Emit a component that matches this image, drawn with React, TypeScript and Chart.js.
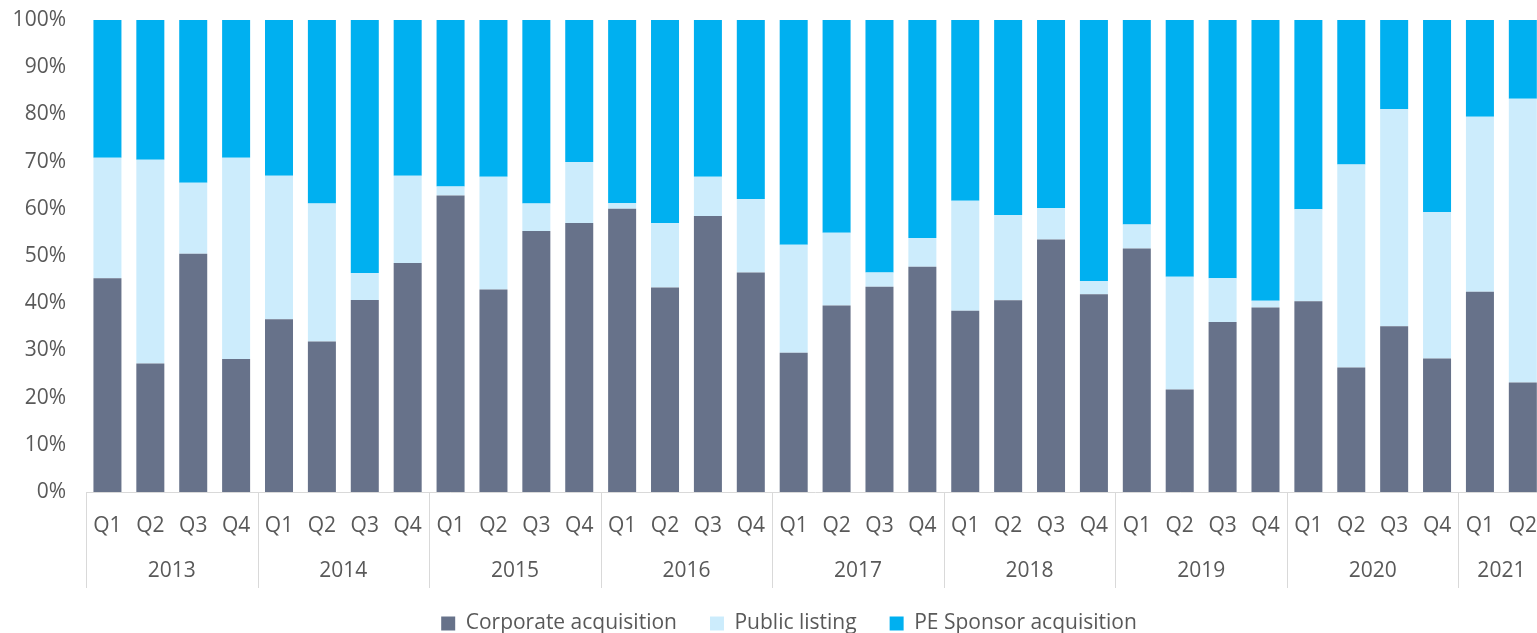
import React, { useEffect, useRef } from "react";
import { Chart, registerables } from "chart.js";

Chart.register(...registerables);

const quarters = [
  "Q1", "Q2", "Q3", "Q4", "Q1", "Q2", "Q3", "Q4", "Q1", "Q2", "Q3", "Q4",
  "Q1", "Q2", "Q3", "Q4", "Q1", "Q2", "Q3", "Q4", "Q1", "Q2", "Q3", "Q4",
  "Q1", "Q2", "Q3", "Q4", "Q1", "Q2", "Q3", "Q4", "Q1", "Q2",
];
const years = ["2013", "2014", "2015", "2016", "2017", "2018", "2019", "2020", "2021"];
const quartersPerYear = [4, 4, 4, 4, 4, 4, 4, 4, 2];

const corporateAcquisition = [
  45.3, 27.2, 50.5, 28.2, 36.6, 31.9, 40.7, 48.5, 62.8, 42.9, 55.3, 57.0,
  60.0, 43.3, 58.5, 46.5, 29.5, 39.5, 43.5, 47.7, 38.4, 40.6, 53.5, 41.9,
  51.6, 21.7, 36.0, 39.1, 40.4, 26.4, 35.1, 28.3, 42.4, 23.2,
];
const publicListing = [
  25.5, 43.2, 15.0, 42.6, 30.4, 29.2, 5.7, 18.5, 1.9, 23.9, 5.8, 12.9,
  1.2, 13.7, 8.3, 15.6, 22.9, 15.4, 3.0, 6.1, 23.3, 18.1, 6.6, 2.8,
  5.1, 23.9, 9.3, 1.4, 19.5, 43.0, 46.0, 31.0, 37.1, 60.1,
];
const peSponsorAcquisition = [
  29.2, 29.6, 34.5, 29.2, 33.0, 38.9, 53.6, 33.0, 35.3, 33.2, 38.9, 30.1,
  38.8, 43.0, 33.2, 37.9, 47.6, 45.1, 53.5, 46.2, 38.3, 41.3, 39.9, 55.3,
  43.3, 54.4, 54.7, 59.5, 40.1, 30.6, 18.9, 40.7, 20.5, 16.7,
];

const seriesNames = ["Corporate acquisition", "Public listing", "PE Sponsor acquisition"];
const seriesColors = ["#67728A", "#CCECFC", "#00B0F0"];

const FONT = '"Open Sans", "Noto Sans", sans-serif';
const FONT_SIZE = 21;
const TEXT = "#595959";
const AXIS = "#D9D9D9";
const CANVAS_W = 1558;
const CANVAS_H = 644;
const PLOT_BOTTOM = 492;
const LEGEND_SHIFT = 10;

const yearAxisPlugin = {
  id: "yearAxis",
  afterLayout(chart: any) {
    if (chart.legend) {
      chart.legend.left += LEGEND_SHIFT;
      chart.legend.right += LEGEND_SHIFT;
    }
  },
  afterDraw(chart: any) {
    const { ctx, chartArea } = chart;
    const x = chart.scales.x;
    const bottom = chartArea.bottom;
    const half = (x.getPixelForValue(1) - x.getPixelForValue(0)) / 2;
    ctx.save();
    ctx.strokeStyle = AXIS;
    ctx.lineWidth = 1;
    ctx.fillStyle = TEXT;
    ctx.font = `${FONT_SIZE}px ${FONT}`;
    ctx.textAlign = "center";
    ctx.textBaseline = "middle";
    let idx = 0;
    years.forEach((yr, g) => {
      const n = quartersPerYear[g];
      const first = idx;
      const last = idx + n - 1;
      const left = Math.round(x.getPixelForValue(first) - half) + 0.5;
      ctx.beginPath();
      ctx.moveTo(left, bottom);
      ctx.lineTo(left, bottom + 96);
      ctx.stroke();
      const center = (x.getPixelForValue(first) + x.getPixelForValue(last)) / 2;
      ctx.fillText(yr, center, bottom + 79);
      idx += n;
    });
    const right = Math.round(x.getPixelForValue(idx - 1) + half) + 0.5;
    ctx.beginPath();
    ctx.moveTo(right, bottom);
    ctx.lineTo(right, bottom + 96);
    ctx.stroke();
    ctx.restore();
  },
};

export default function App() {
  const ref = useRef<HTMLCanvasElement | null>(null);

  useEffect(() => {
    if (!ref.current) return;
    const data = [corporateAcquisition, publicListing, peSponsorAcquisition];
    const chart = new Chart(ref.current, {
      type: "bar",
      data: {
        labels: quarters,
        datasets: data.map((d, i) => ({
          label: seriesNames[i],
          data: d,
          backgroundColor: seriesColors[i],
          borderWidth: 0,
          barPercentage: 0.653,
          categoryPercentage: 1,
        })),
      },
      options: {
        responsive: false,
        animation: false,
        layout: { padding: { top: 20, left: 0, right: 0, bottom: 0 } },
        plugins: {
          legend: {
            position: "bottom",
            labels: {
              boxWidth: 14,
              boxHeight: 14,
              padding: 33,
              color: TEXT,
              font: { family: FONT, size: FONT_SIZE },
            },
          },
          tooltip: { enabled: false },
        },
        scales: {
          x: {
            stacked: true,
            grid: { display: false, drawTicks: false },
            border: { display: true, color: AXIS, width: 1 },
            ticks: {
              color: TEXT,
              font: { family: FONT, size: FONT_SIZE },
              padding: 21,
              maxRotation: 0,
              autoSkip: false,
            },
            afterFit: (scale: any) => {
              const lh = scale.chart.legend ? scale.chart.legend.height : 0;
              scale.height = CANVAS_H - lh - PLOT_BOTTOM;
            },
          },
          y: {
            stacked: true,
            min: 0,
            max: 100,
            grid: { display: false, drawTicks: false },
            border: { display: false },
            ticks: {
              stepSize: 10,
              color: TEXT,
              font: { family: FONT, size: FONT_SIZE },
              padding: 20,
              callback: (v: any) => `${v}%`,
            },
            afterFit: (scale: any) => {
              scale.width = 86;
              scale.paddingTop = 0;
              scale.paddingBottom = 0;
            },
          },
        },
      },
      plugins: [yearAxisPlugin],
    });
    return () => chart.destroy();
  }, []);

  return (
    <div
      style={{
        position: "fixed",
        left: 0,
        top: 0,
        width: 1537,
        height: 633,
        overflow: "hidden",
        background: "#fff",
      }}
    >
      <canvas
        ref={ref}
        width={CANVAS_W}
        height={CANVAS_H}
        style={{ display: "block", width: CANVAS_W, height: CANVAS_H }}
      />
    </div>
  );
}
